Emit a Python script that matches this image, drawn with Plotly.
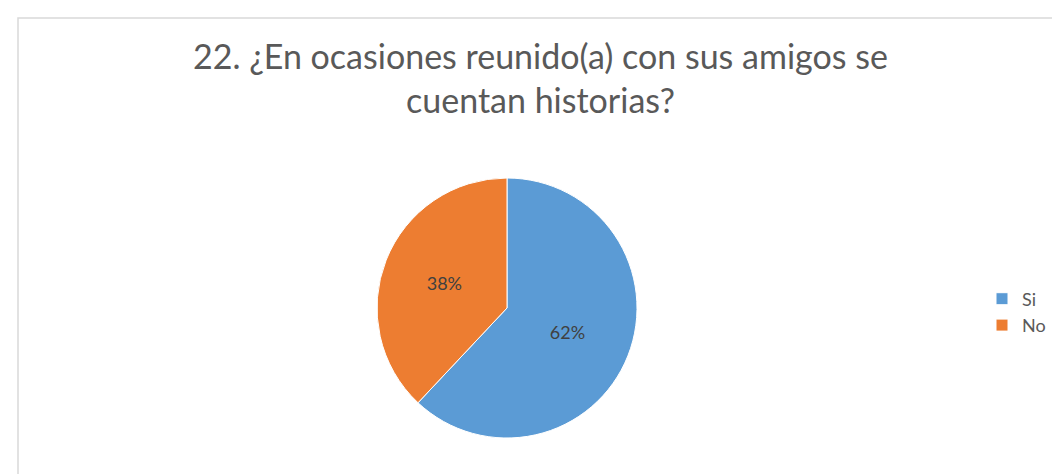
import plotly.graph_objects as go

labels = ["Si", "No"]
values = [62, 38]
colors = ["#5B9BD5", "#ED7D31"]
title_lines = ["22. ¿En ocasiones reunido(a) con sus amigos se", "cuentan historias?"]

W, H = 1060, 474
FONT = "Lato, Open Sans, sans-serif"

fig = go.Figure()
fig.add_trace(go.Pie(
    labels=labels,
    values=values,
    sort=False,
    direction="clockwise",
    rotation=0,
    marker=dict(colors=colors, line=dict(color="white", width=1)),
    textinfo="percent",
    texttemplate="%{percent:.0%}",
    textposition="inside",
    insidetextfont=dict(family=FONT, size=18, color="#404040"),
    domain=dict(x=[(499 - 130) / W, (499 + 130) / W], y=[1 - 430 / H, 1 - 170 / H]),
    hoverinfo="label+percent",
))

fig.update_layout(
    width=W, height=H,
    margin=dict(l=0, r=0, t=0, b=0),
    paper_bgcolor="white",
    plot_bgcolor="white",
    annotations=[dict(
        text="<br>".join(title_lines),
        xref="paper", yref="paper",
        x=532 / W, xanchor="center",
        y=1 - 70 / H, yanchor="middle",
        showarrow=False, align="center",
        font=dict(family=FONT, size=34, color="#595959"),
    )],
    legend=dict(
        x=974 / W, xanchor="left",
        y=1 - 304 / H, yanchor="middle",
        font=dict(family=FONT, size=18, color="#595959"),
        bgcolor="rgba(0,0,0,0)",
        itemwidth=30,
    ),
    shapes=[dict(
        type="rect", xref="paper", yref="paper",
        x0=10 / W, x1=1.02, y0=-0.02, y1=1 - 10 / H,
        line=dict(color="#D9D9D9", width=1.5),
        fillcolor="rgba(0,0,0,0)", layer="below",
    )],
)

fig.write_html("out.html")
